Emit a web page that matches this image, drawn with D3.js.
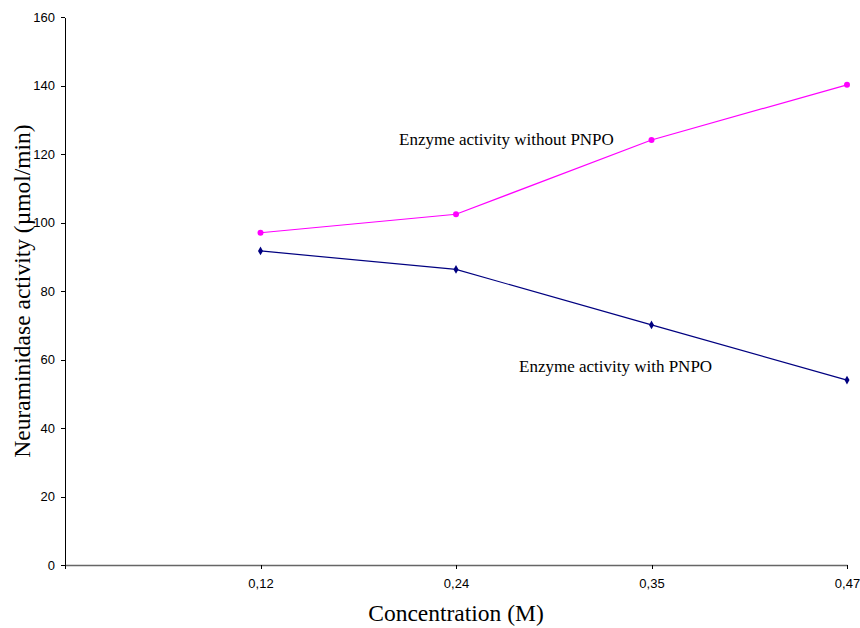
<!DOCTYPE html>
<html>
<head>
<meta charset="utf-8">
<script src="https://cdn.jsdelivr.net/npm/d3@7"></script>
<style>
  body { margin: 0; background: #fff; }
  svg { display: block; }
</style>
</head>
<body>
<svg id="chart" width="860" height="628"></svg>
<script>
// data
var concentrations = ["0,12", "0,24", "0,35", "0,47"];
var withoutPNPO = [97.0, 102.4, 124.1, 140.2];
var withPNPO = [91.7, 86.3, 70.1, 54.0];
var yTicks = [0, 20, 40, 60, 80, 100, 120, 140, 160];

var svg = d3.select("#chart");
// note: "top" is a read-only global, so keep the plot box in its own object
var plot = { left: 65, right: 847, top: 17, bottom: 565 };

// slot 0 is left empty, categories sit on slots 1..4
var x = d3.scaleLinear().domain([0, concentrations.length]).range([plot.left, plot.right]);
var y = d3.scaleLinear().domain([0, 160]).range([plot.bottom, plot.top]);

// Y AXIS
var yAxis = svg.append("g").attr("transform", "translate(" + plot.left + ",0)")
  .call(d3.axisLeft(y).tickValues(yTicks).tickSize(4).tickSizeOuter(0).tickPadding(6));
yAxis.selectAll("path, line").attr("stroke", "#000").attr("shape-rendering", "crispEdges");
yAxis.selectAll("text").attr("font-family", "Liberation Sans, Arial, sans-serif")
  .attr("font-size", 13).attr("fill", "#000");

// X AXIS
var xAxis = svg.append("g").attr("transform", "translate(0," + plot.bottom + ")")
  .call(d3.axisBottom(x).tickValues(d3.range(0, concentrations.length + 1))
    .tickFormat(function(d){ return d === 0 ? "" : concentrations[d - 1]; })
    .tickSize(4).tickSizeOuter(0).tickPadding(10));
xAxis.select(".domain").attr("stroke", "#666").attr("stroke-width", 1.5);
xAxis.selectAll("line").attr("stroke", "#000").attr("shape-rendering", "crispEdges");
xAxis.selectAll("text").attr("font-family", "Liberation Sans, Arial, sans-serif")
  .attr("font-size", 13).attr("fill", "#000");

// AXIS TITLES
svg.append("text")
  .attr("transform", "translate(30," + ((plot.top + plot.bottom) / 2) + ") rotate(-90)")
  .attr("text-anchor", "middle")
  .attr("font-family", "Liberation Serif, Times New Roman, serif")
  .attr("font-size", 23.5).attr("fill", "#000")
  .text("Neuraminidase activity (\u00b5mol/min)");

svg.append("text")
  .attr("x", (plot.left + plot.right) / 2).attr("y", 621)
  .attr("text-anchor", "middle")
  .attr("font-family", "Liberation Serif, Times New Roman, serif")
  .attr("font-size", 23.5).attr("fill", "#000")
  .text("Concentration (M)");

// SERIES
var line = d3.line()
  .x(function(d, i){ return x(i + 1); })
  .y(function(d){ return y(d); });

svg.append("path").datum(withoutPNPO)
  .attr("d", line).attr("fill", "none")
  .attr("stroke", "#ff00ff").attr("stroke-width", 1.2);
svg.append("g").selectAll("circle").data(withoutPNPO)
  .enter().append("circle")
  .attr("cx", function(d, i){ return x(i + 1); })
  .attr("cy", function(d){ return y(d); })
  .attr("r", 3)
  .attr("fill", "#ff00ff");

svg.append("path").datum(withPNPO)
  .attr("d", line).attr("fill", "none")
  .attr("stroke", "#000080").attr("stroke-width", 1.2);
svg.append("g").selectAll("path").data(withPNPO)
  .enter().append("path")
  .attr("d", d3.symbol().type(d3.symbolDiamond).size(22))
  .attr("transform", function(d, i){ return "translate(" + x(i + 1) + "," + y(d) + ")"; })
  .attr("fill", "#000080");

// LABELS
svg.append("text")
  .attr("x", 399).attr("y", 145)
  .attr("font-family", "Liberation Serif, Times New Roman, serif")
  .attr("font-size", 17).attr("fill", "#000")
  .text("Enzyme activity without PNPO");

svg.append("text")
  .attr("x", 519).attr("y", 372)
  .attr("font-family", "Liberation Serif, Times New Roman, serif")
  .attr("font-size", 17).attr("fill", "#000")
  .text("Enzyme activity with PNPO");
</script>
</body>
</html>
